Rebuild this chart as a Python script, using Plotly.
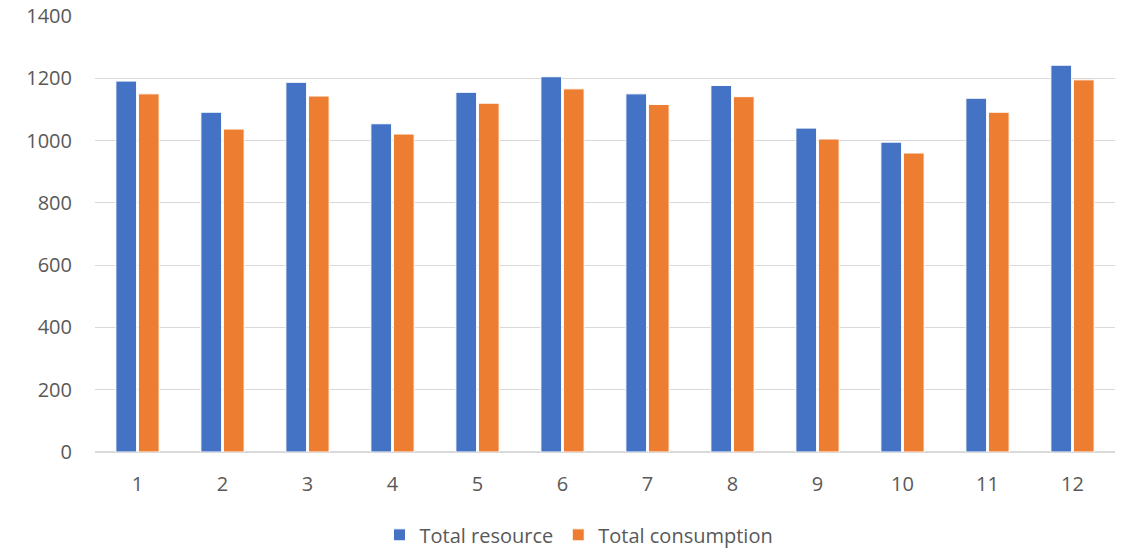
import plotly.graph_objects as go

months = [str(i) for i in range(1, 13)]
total_resource = [1191, 1091, 1187, 1054, 1155, 1205, 1150, 1177, 1040, 995, 1136, 1242]
total_consumption = [1150, 1037, 1143, 1021, 1120, 1166, 1116, 1141, 1005, 960, 1091, 1195]

FONT = "Open Sans"
TEXT = "#595959"

fig = go.Figure()
fig.add_trace(go.Bar(x=months, y=total_resource, name="Total resource",
                     marker=dict(color="#4472C4", line=dict(color="white", width=1))))
fig.add_trace(go.Bar(x=months, y=total_consumption, name="Total consumption",
                     marker=dict(color="#ED7D31", line=dict(color="white", width=1))))

fig.update_layout(
    width=1125, height=548,
    margin=dict(l=95, r=10, t=16, b=96, autoexpand=False),
    paper_bgcolor="white", plot_bgcolor="white",
    font=dict(family=FONT, size=20, color=TEXT),
    barmode="group", bargap=0.47, bargroupgap=0.08,
    legend=dict(orientation="h", x=0.4745, xanchor="center", y=-0.19, yanchor="middle",
                font=dict(size=20, color=TEXT), itemwidth=30),
    showlegend=True,
)
fig.update_yaxes(range=[0, 1400], dtick=200, showgrid=True, gridcolor="#D9D9D9",
                 gridwidth=1, zeroline=True, zerolinecolor="#D9D9D9",
                 ticks="", ticklabelstandoff=22, showline=False)
fig.update_xaxes(showgrid=False, ticks="", showline=True, linecolor="#D9D9D9",
                 ticklabelstandoff=14)

fig.write_html("out.html")
